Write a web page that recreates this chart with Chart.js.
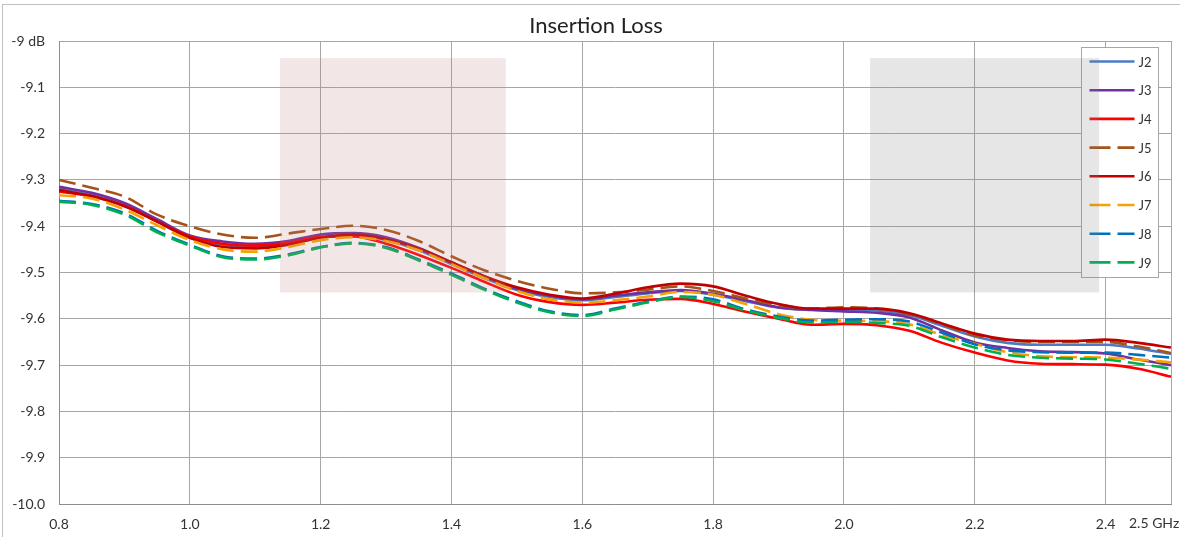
<!DOCTYPE html>
<html>
<head>
<meta charset="utf-8">
<title>Insertion Loss</title>
<script src="https://cdn.jsdelivr.net/npm/chart.js@4"></script>
<style>
  html, body { margin: 0; padding: 0; background: #fff; }
</style>
</head>
<body>
<canvas id="lossChart" width="1180" height="537"></canvas>
<script>
// frequency points, GHz
const freq = [0.80, 0.85, 0.90, 0.95, 1.00, 1.05, 1.10, 1.15, 1.20, 1.25, 1.30, 1.35,
  1.40, 1.45, 1.50, 1.55, 1.60, 1.65, 1.70, 1.75, 1.80, 1.85, 1.90, 1.95,
  2.00, 2.05, 2.10, 2.15, 2.20, 2.25, 2.30, 2.35, 2.40, 2.45, 2.50];

// insertion loss per port, dB
const J2_data = [-9.320, -9.333, -9.355, -9.390, -9.425, -9.440, -9.445, -9.438, -9.425, -9.420, -9.430, -9.452,
  -9.482, -9.512, -9.538, -9.553, -9.560, -9.553, -9.545, -9.540, -9.548, -9.562, -9.576, -9.580,
  -9.580, -9.582, -9.592, -9.615, -9.638, -9.652, -9.656, -9.656, -9.656, -9.664, -9.676];
const J3_data = [-9.315, -9.328, -9.350, -9.385, -9.420, -9.433, -9.438, -9.432, -9.418, -9.415, -9.424, -9.447,
  -9.478, -9.508, -9.535, -9.550, -9.558, -9.550, -9.543, -9.538, -9.546, -9.560, -9.575, -9.581,
  -9.584, -9.587, -9.597, -9.625, -9.651, -9.663, -9.670, -9.672, -9.675, -9.688, -9.700];
const J4_data = [-9.325, -9.336, -9.356, -9.390, -9.422, -9.438, -9.442, -9.436, -9.423, -9.422, -9.438, -9.462,
  -9.490, -9.520, -9.548, -9.564, -9.570, -9.565, -9.559, -9.557, -9.568, -9.585, -9.600, -9.613,
  -9.611, -9.614, -9.626, -9.652, -9.673, -9.690, -9.697, -9.698, -9.699, -9.708, -9.725];
const J5_data = [-9.300, -9.317, -9.336, -9.375, -9.400, -9.418, -9.425, -9.416, -9.406, -9.399, -9.408, -9.432,
  -9.465, -9.495, -9.518, -9.535, -9.545, -9.543, -9.537, -9.530, -9.540, -9.556, -9.570, -9.578,
  -9.575, -9.578, -9.590, -9.612, -9.636, -9.646, -9.650, -9.650, -9.650, -9.660, -9.674];
const J6_data = [-9.322, -9.335, -9.357, -9.390, -9.425, -9.445, -9.448, -9.440, -9.425, -9.418, -9.428, -9.448,
  -9.478, -9.508, -9.532, -9.548, -9.556, -9.546, -9.532, -9.524, -9.530, -9.550, -9.568, -9.578,
  -9.578, -9.578, -9.588, -9.610, -9.632, -9.645, -9.648, -9.648, -9.645, -9.652, -9.662];
const J7_data = [-9.333, -9.340, -9.364, -9.398, -9.430, -9.450, -9.455, -9.445, -9.430, -9.424, -9.432, -9.452,
  -9.482, -9.512, -9.540, -9.558, -9.565, -9.560, -9.552, -9.542, -9.548, -9.568, -9.590, -9.602,
  -9.604, -9.605, -9.612, -9.635, -9.654, -9.672, -9.681, -9.683, -9.684, -9.688, -9.694];
const J8_data = [-9.345, -9.352, -9.372, -9.410, -9.440, -9.465, -9.470, -9.461, -9.445, -9.436, -9.445, -9.472,
  -9.502, -9.535, -9.562, -9.584, -9.592, -9.578, -9.563, -9.552, -9.558, -9.580, -9.595, -9.604,
  -9.602, -9.601, -9.606, -9.630, -9.655, -9.668, -9.672, -9.673, -9.673, -9.678, -9.684];
const J9_data = [-9.347, -9.354, -9.375, -9.413, -9.442, -9.467, -9.472, -9.463, -9.446, -9.437, -9.447, -9.474,
  -9.505, -9.537, -9.565, -9.586, -9.594, -9.580, -9.565, -9.553, -9.562, -9.582, -9.598, -9.608,
  -9.607, -9.609, -9.615, -9.640, -9.662, -9.678, -9.684, -9.686, -9.688, -9.697, -9.708];

// axis ticks
const xTicks = [0.8, 1.0, 1.2, 1.4, 1.6, 1.8, 2.0, 2.2, 2.4, 2.5];
const yTicks = [-10.0, -9.9, -9.8, -9.7, -9.6, -9.5, -9.4, -9.3, -9.2, -9.1, -9.0];

// shaded bands: [fromGHz, toGHz], [lowdB, highdB]
const pinkBandX = [1.138, 1.483];
const grayBandX = [2.040, 2.390];
const bandY = [-9.543, -9.037];

const FONT = 'Lato, "Open Sans", sans-serif';

function makeSet(label, values, color, dashed, order) {
  return {
    label: label,
    data: freq.map((f, i) => ({ x: f, y: values[i] })),
    borderColor: color,
    backgroundColor: color,
    borderWidth: 2.6,
    borderDash: dashed ? [17, 7] : [],
    cubicInterpolationMode: 'monotone',
    pointRadius: 0,
    fill: false,
    order: order
  };
}

const decorPlugin = {
  id: 'decor',
  afterDraw(chart) {
    const { ctx, chartArea, scales: { x, y } } = chart;
    ctx.save();

    // legend box (inside plot, top right)
    const bx = chartArea.right - 89.5, by = chartArea.top + 6.5, bw = 77, bh = 230;
    ctx.fillStyle = '#ffffff';
    ctx.fillRect(bx, by, bw, bh);
    ctx.strokeStyle = '#a6a6a6';
    ctx.lineWidth = 1;
    ctx.strokeRect(bx, by, bw, bh);
    chart.data.datasets.forEach((ds, i) => {
      const ly = by + 14 + i * 28.7;
      ctx.beginPath();
      ctx.strokeStyle = ds.borderColor;
      ctx.lineWidth = 2.6;
      ctx.setLineDash(ds.borderDash.length ? [21, 7] : []);
      ctx.moveTo(bx + 8, ly);
      ctx.lineTo(bx + 53, ly);
      ctx.stroke();
      ctx.setLineDash([]);
      ctx.fillStyle = '#333';
      ctx.font = '13px ' + FONT;
      ctx.textAlign = 'left';
      ctx.textBaseline = 'middle';
      ctx.fillText(ds.label, bx + 57, ly + 1);
    });

    // translucent bands on top
    const band = (xr, col) => {
      const x0 = x.getPixelForValue(xr[0]), x1 = x.getPixelForValue(xr[1]);
      const y0 = y.getPixelForValue(bandY[1]), y1 = y.getPixelForValue(bandY[0]);
      ctx.fillStyle = col;
      ctx.fillRect(x0, y0, x1 - x0, y1 - y0);
    };
    band(pinkBandX, 'rgba(190,130,130,0.2)');
    band(grayBandX, 'rgba(128,128,128,0.2)');

    // title
    ctx.fillStyle = '#222';
    ctx.font = '22px ' + FONT;
    ctx.textAlign = 'center';
    ctx.textBaseline = 'middle';
    ctx.fillText('Insertion Loss', 596, 26);

    // last x label with unit
    ctx.font = '14px ' + FONT;
    ctx.textAlign = 'left';
    ctx.fillStyle = '#333';
    ctx.fillText('2.5 GHz', x.getPixelForValue(2.5) - 42, 523);

    // outer frame
    ctx.strokeStyle = '#c0c0c0';
    ctx.lineWidth = 1;
    ctx.strokeRect(2.5, 4.5, 1200, 600);
    ctx.restore();
  }
};

const lossChart = new Chart(
  document.getElementById('lossChart'),
  {
    type: 'line',
    data: {
      datasets: [
        makeSet('J2', J2_data, '#4a7bc4', false, 8),
        makeSet('J3', J3_data, '#7030a0', false, 7),
        makeSet('J4', J4_data, '#ff0000', false, 6),
        makeSet('J5', J5_data, '#a4531a', true, 5),
        makeSet('J6', J6_data, '#c00000', false, 4),
        makeSet('J7', J7_data, '#f8a100', true, 3),
        makeSet('J8', J8_data, '#0070c0', true, 2),
        makeSet('J9', J9_data, '#00b050', true, 1)
      ]
    },
    options: {
      responsive: false,
      animation: false,
      layout: { padding: { top: 41, right: 9, left: 0, bottom: 0 } },
      plugins: {
        legend: { display: false },
        title: { display: false },
        tooltip: { enabled: false }
      },
      scales: {
        x: {
          type: 'linear',
          min: 0.8,
          max: 2.5,
          afterBuildTicks: s => { s.ticks = xTicks.map(v => ({ value: v })); },
          afterFit: s => { s.height = 33; },
          grid: { color: '#a6a6a6', lineWidth: 1, drawTicks: true, tickLength: 12, tickColor: 'rgba(0,0,0,0)' },
          border: { color: '#8c8c8c', width: 1 },
          ticks: {
            padding: 0,
            autoSkip: false,
            maxRotation: 0,
            color: '#333',
            font: { family: FONT, size: 14 },
            callback: v => (v === 2.5 ? '' : v.toFixed(1))
          }
        },
        y: {
          type: 'linear',
          min: -10,
          max: -9,
          afterBuildTicks: s => { s.ticks = yTicks.map(v => ({ value: v })); },
          afterFit: s => { s.width = 59; },
          grid: { color: '#a6a6a6', lineWidth: 1, drawTicks: false },
          border: { color: '#8c8c8c', width: 1 },
          ticks: {
            padding: 14,
            color: '#333',
            font: { family: FONT, size: 14 },
            callback: v => (v === -9 ? '-9 dB' : v.toFixed(1))
          }
        }
      }
    },
    plugins: [decorPlugin]
  }
);
</script>
</body>
</html>
